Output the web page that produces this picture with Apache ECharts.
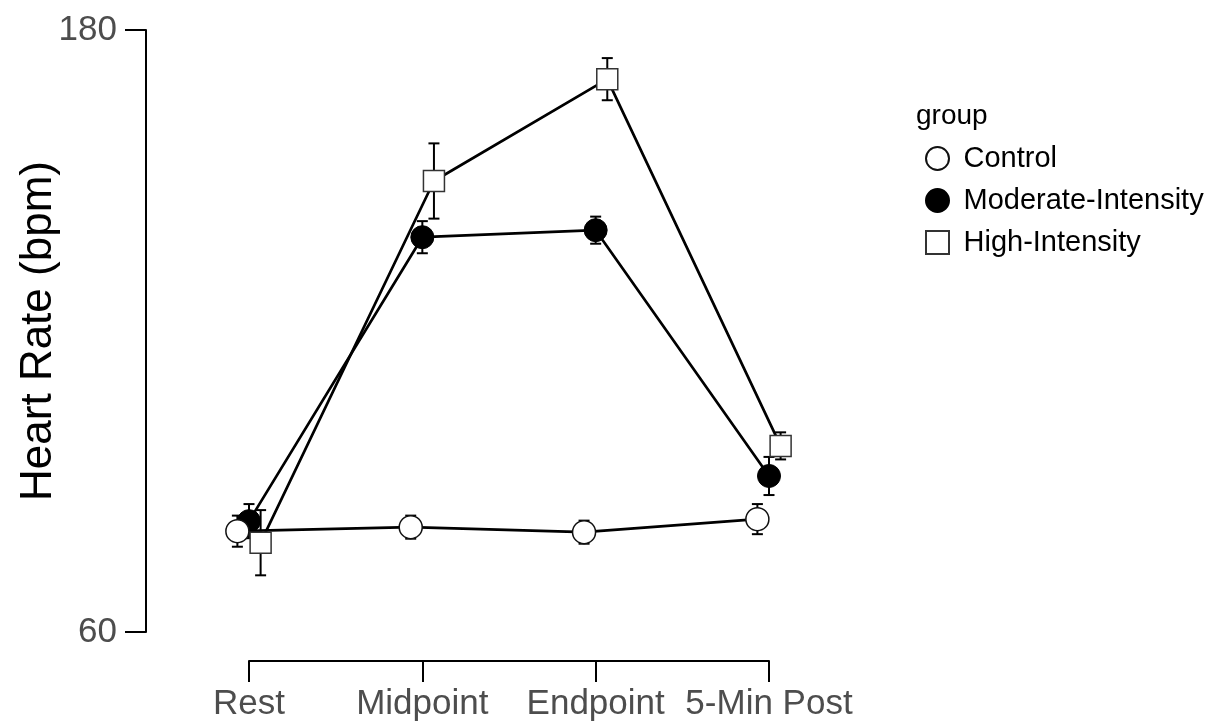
<!DOCTYPE html>
<html>
<head>
<meta charset="utf-8">
<script src="https://cdn.jsdelivr.net/npm/echarts@6/dist/echarts.min.js"></script>
<style>
  html, body { margin: 0; padding: 0; background: #fff; }
  #chart { width: 1209px; height: 726px; }
</style>
</head>
<body>
<div id="chart"></div>
<script>
// data (mean heart rate +/- error bar half-width)
const categories = ['Rest', 'Midpoint', 'Endpoint', '5-Min Post'];
const groups = ['Control', 'Moderate-Intensity', 'High-Intensity'];
const controlMean = [80.1, 80.9, 79.9, 82.5];
const controlSe = [3.1, 2.3, 2.3, 3.0];
const moderateMean = [82.1, 138.7, 140.1, 91.1];
const moderateSe = [3.4, 3.2, 2.7, 3.8];
const highMean = [77.8, 149.9, 170.2, 97.1];
const highSe = [6.5, 7.5, 4.2, 2.7];
const yTicks = [60, 180];

const FONT = '"Liberation Sans", Arial, sans-serif';
const dodge = [-0.067, 0, 0.067];
const means = [controlMean, moderateMean, highMean];
const ses = [controlSe, moderateSe, highSe];

// layout: the y axis sits at the panel's left edge, the bracket x axis only spans first..last category
const panel = { left: 146, top: 30, height: 602, right: 846 };
const bracket = { left: 249, right: 769 };
const unit = (bracket.right - bracket.left) / (categories.length - 1);
const xMin = -(bracket.left - panel.left) / unit;
const xMax = categories.length - 1 + (panel.right - bracket.right) / unit;

const pointStyles = [
  { symbol: 'circle', symbolSize: 23, itemStyle: { color: '#fff', borderColor: '#111', borderWidth: 1.5, opacity: 1 }, z: 5 },
  { symbol: 'circle', symbolSize: 23, itemStyle: { color: '#000', borderColor: '#000', borderWidth: 1, opacity: 1 }, z: 4 },
  { symbol: 'rect', symbolSize: 21, itemStyle: { color: '#fff', borderColor: '#333', borderWidth: 1.5, opacity: 1 }, z: 6 }
];

function errorBarItem(params, api) {
  const x = api.value(0);
  const lo = api.coord([x, api.value(1)]);
  const hi = api.coord([x, api.value(2)]);
  const half = 5.5;
  const style = { stroke: '#000', lineWidth: 2 };
  return {
    type: 'group',
    children: [
      { type: 'line', shape: { x1: lo[0], y1: lo[1], x2: hi[0], y2: hi[1] }, style },
      { type: 'line', shape: { x1: lo[0] - half, y1: lo[1], x2: lo[0] + half, y2: lo[1] }, style },
      { type: 'line', shape: { x1: hi[0] - half, y1: hi[1], x2: hi[0] + half, y2: hi[1] }, style }
    ]
  };
}

const series = [];
groups.forEach((g, gi) => {
  const pts = categories.map((c, i) => [i + dodge[gi], means[gi][i]]);
  series.push({
    name: g + ' line', type: 'line', data: pts, symbol: 'none', z: 2,
    lineStyle: { color: '#000', width: 2.7 }, silent: true
  });
  series.push({
    name: g + ' err', type: 'custom', renderItem: errorBarItem, z: 3, silent: true,
    data: categories.map((c, i) => [i + dodge[gi], means[gi][i] - ses[gi][i], means[gi][i] + ses[gi][i]])
  });
});
groups.forEach((g, gi) => {
  const st = pointStyles[gi];
  series.push({
    name: g, type: 'scatter', z: st.z,
    symbol: st.symbol, symbolSize: st.symbolSize, itemStyle: st.itemStyle,
    data: categories.map((c, i) => [i + dodge[gi], means[gi][i]])
  });
});

const axisLine = { show: true, onZero: false, lineStyle: { color: '#000', width: 2 } };
const axisTick = { show: true, length: 21, lineStyle: { color: '#000', width: 2 } };

const chart = echarts.init(document.getElementById('chart'));
chart.setOption({
  animation: false,
  backgroundColor: '#fff',
  textStyle: { fontFamily: FONT },
  grid: [
    { left: panel.left, top: panel.top, width: panel.right - panel.left, height: panel.height, outerBoundsMode: 'none' },
    { left: bracket.left, top: panel.top + panel.height - 1, width: bracket.right - bracket.left, height: 1, outerBoundsMode: 'none' }
  ],
  xAxis: [
    { type: 'value', gridIndex: 0, min: xMin, max: xMax, show: false },
    {
      type: 'value', gridIndex: 1, min: 0, max: categories.length - 1, interval: 1, offset: 29,
      splitLine: { show: false }, axisLine, axisTick,
      axisLabel: {
        formatter: v => categories[v] || '', fontSize: 35, color: '#4d4d4d', margin: 26, fontFamily: FONT
      }
    }
  ],
  yAxis: [
    {
      type: 'value', gridIndex: 0, min: yTicks[0], max: yTicks[1], interval: yTicks[1] - yTicks[0],
      splitLine: { show: false }, axisLine, axisTick,
      axisLabel: { fontSize: 35, color: '#4d4d4d', margin: 29, fontFamily: FONT },
      name: 'Heart Rate (bpm)', nameLocation: 'middle', nameGap: 85, nameMoveOverlap: false,
      nameTextStyle: { fontSize: 44, color: '#000', fontFamily: FONT }
    },
    { type: 'value', gridIndex: 1, show: false }
  ],
  legend: {
    orient: 'vertical', left: 920, top: 139, itemWidth: 42, itemHeight: 23, itemGap: 13,
    selectedMode: false,
    textStyle: { fontSize: 29, color: '#000', fontFamily: FONT },
    data: [
      { name: 'Control', icon: 'circle' },
      { name: 'Moderate-Intensity', icon: 'circle' },
      { name: 'High-Intensity', icon: 'path://M0 0H10V10H0Z' }
    ]
  },
  graphic: [{
    type: 'text', left: 916, top: 102,
    style: { text: 'group', font: '28px ' + FONT, fill: '#000' }
  }],
  series
});
</script>
</body>
</html>
